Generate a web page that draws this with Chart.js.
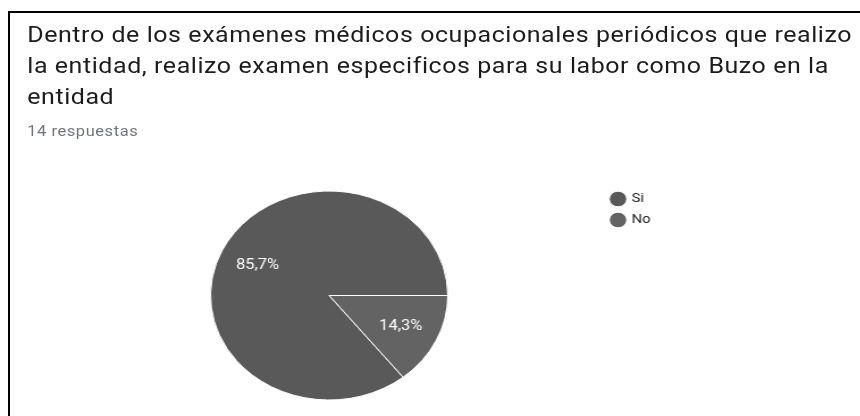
<!DOCTYPE html>
<html lang="es">
<head>
<meta charset="utf-8">
<title>Exámenes médicos ocupacionales</title>
<script src="https://cdn.jsdelivr.net/npm/chart.js@4/dist/chart.umd.min.js"></script>
<style>
  html, body { margin: 0; padding: 0; background: #fff; }
  body { width: 860px; height: 416px; overflow: hidden; position: relative; font-family: Roboto, Arial, sans-serif; }
  .frame { position: absolute; left: 8px; top: 11px; right: 0; bottom: 0; border-top: 2px solid #000; border-left: 2px solid #000; }
  /* the reference is stretched sideways, so the whole card is scaled on x */
  #stage { position: absolute; left: 0; top: 0; width: 758px; height: 416px; transform: scaleX(1.135); transform-origin: 0 0; }
  .titulo { position: absolute; left: 24px; top: 19px; font-size: 22px; line-height: 31px; letter-spacing: 0.5px; color: #1c1c1c; white-space: nowrap; }
  .sub { position: absolute; left: 24px; top: 123px; font-size: 14.5px; line-height: 18px; letter-spacing: 0.5px; color: #70757a; white-space: nowrap; }
  #pie { position: absolute; left: 0; top: 0; }
</style>
</head>
<body>
<div class="frame"></div>
<div id="stage">
  <div class="titulo">Dentro de los exámenes médicos ocupacionales periódicos que realizo<br>la entidad, realizo examen especificos para su labor como Buzo en la<br>entidad</div>
  <div class="sub">14 respuestas</div>
  <canvas id="pie" width="758" height="416"></canvas>
</div>
<script>
const categorias = ['Si', 'No'];
const respuestas = [12, 2];
const colores = ['#595959', '#636363'];

const total = respuestas.reduce((a, b) => a + b, 0);

// porcentajes dentro de cada porción
const pctLabels = {
  id: 'pctLabels',
  afterDatasetsDraw(chart) {
    const ctx = chart.ctx;
    const meta = chart.getDatasetMeta(0);
    ctx.save();
    ctx.fillStyle = '#fff';
    ctx.font = '14.5px Roboto';
    ctx.textAlign = 'center';
    ctx.textBaseline = 'middle';
    meta.data.forEach((arc, i) => {
      const p = arc.getProps(['x', 'y', 'startAngle', 'endAngle', 'outerRadius'], true);
      const mid = (p.startAngle + p.endAngle) / 2;
      const r = p.outerRadius * 0.67;
      const txt = (respuestas[i] / total * 100).toFixed(1).replace('.', ',') + '%';
      ctx.fillText(txt, p.x + Math.cos(mid) * r, p.y + Math.sin(mid) * r);
    });
    ctx.restore();
  }
};

// leyenda fuera del flujo del layout, a la derecha del gráfico
const legendSpot = {
  id: 'legendSpot',
  beforeLayout(chart) {
    const lg = chart.legend;
    if (!lg || lg._patched) return;
    const fit = lg.fit;
    lg.fit = function () { fit.call(this); this.width = 0; };
    lg._patched = true;
  },
  afterLayout(chart) {
    const lg = chart.legend;
    lg.left = 531; lg.right = 700;
    lg.top = 184.5; lg.bottom = 416;
    lg.width = lg.right - lg.left; lg.height = lg.bottom - lg.top;
  }
};

new Chart(document.getElementById('pie'), {
  type: 'pie',
  data: {
    labels: categorias,
    datasets: [{
      data: respuestas,
      backgroundColor: colores,
      borderColor: '#fff',
      borderWidth: 1
    }]
  },
  options: {
    responsive: false,
    animation: false,
    rotation: 90 + 360 * respuestas[1] / total,
    layout: { padding: { left: 185, right: 363, top: 190, bottom: 15 } },
    plugins: {
      tooltip: { enabled: false },
      legend: {
        position: 'right',
        align: 'start',
        labels: {
          usePointStyle: true,
          pointStyle: 'circle',
          boxWidth: 11,
          boxHeight: 11,
          padding: 8,
          color: '#202124',
          font: { family: 'Roboto', size: 13 }
        }
      }
    }
  },
  plugins: [pctLabels, legendSpot]
});
</script>
</body>
</html>
